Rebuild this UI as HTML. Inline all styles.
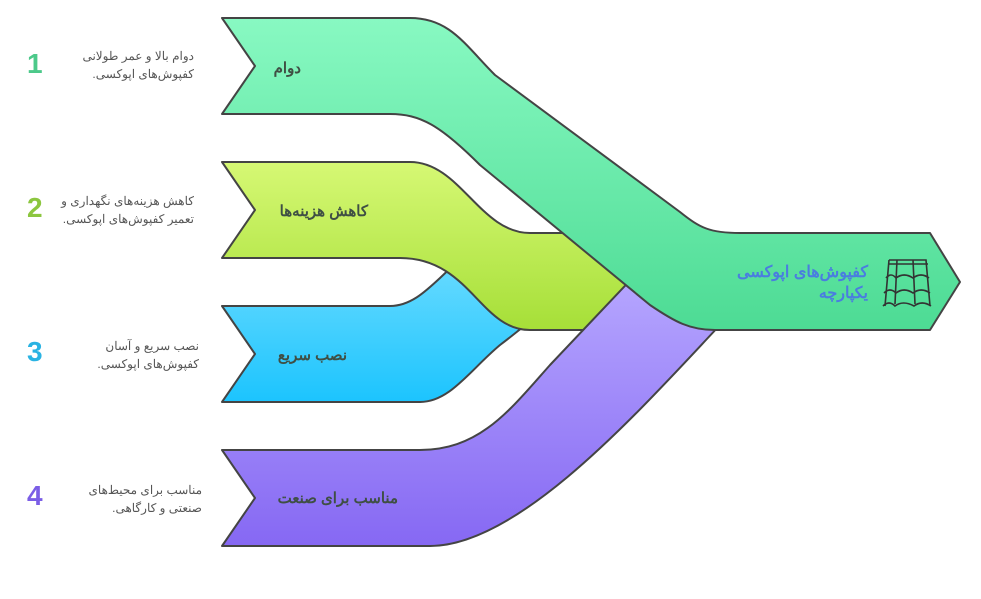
<!DOCTYPE html>
<html><head><meta charset="utf-8"><style>
body{margin:0;width:981px;height:599px;background:#fff;overflow:hidden;position:relative;font-family:"Liberation Sans","Noto Sans CJK SC",sans-serif}
.n{position:absolute;font-size:28px;font-weight:bold;left:27px}
.d{position:absolute;direction:rtl;text-align:right;font-size:12px;color:#555;line-height:18px;width:150px}
</style></head><body>
<svg width="981" height="599" style="position:absolute;left:0;top:0">
<defs>
<linearGradient id="g" x1="0" y1="0" x2="0" y2="1"><stop offset="0" stop-color="#88f9c2"/><stop offset="1" stop-color="#4ddb94"/></linearGradient>
<linearGradient id="l" x1="0" y1="0" x2="0" y2="1"><stop offset="0" stop-color="#d6f874"/><stop offset="1" stop-color="#a6df38"/></linearGradient>
<linearGradient id="b" x1="0" y1="0" x2="0" y2="1"><stop offset="0" stop-color="#74deff"/><stop offset="1" stop-color="#1cc4fe"/></linearGradient>
<linearGradient id="p" x1="0" y1="0" x2="0" y2="1"><stop offset="0" stop-color="#b7a8ff"/><stop offset="1" stop-color="#8668f3"/></linearGradient>
</defs>
<g stroke="#444" stroke-width="2" stroke-linejoin="round">
<path fill="url(#b)" d="M222,306 L390,306 C410,306 425,292 440,278 L480,240 L560,240 L560,300 C530,320 520,330 500,345 C470,370 450,402 420,402 L222,402 L255,354 Z"/>
<path fill="url(#l)" d="M222,162 L410,162 C460,162 480,233 530,233 L640,233 L640,330 L530,330 C480,330 470,258 400,258 L222,258 L255,210 Z"/>
<path fill="url(#p)" d="M222,450 L420,450 C480,450 510,410 550,365 L640,270 L760,275 L720,325 C640,410 520,546 430,546 L222,546 L255,498 Z"/>
<path fill="url(#g)" d="M222,18 L410,18 C450,18 465,45 495,75 L680,212 C700,228 710,233 740,233 L930,233 L960,282 L930,330 L715,330 C690,330 675,322 650,305 L480,165 C440,125 420,114 390,114 L222,114 L255,66 Z"/>
</g>
<g fill="none" stroke="#333" stroke-width="1.6">
<path d="M889,260 H926 L930,306 M885,306 L889,260 M897,260 L895,304 M913,260 L915,304"/>
<path d="M886,278 q5,-6 10,0 q8,-6 17,0 q8,-6 16,0 M884,293 q6,-6 12,0 q8,-6 17,0 q8,-6 17,0 M883,306 q6,-6 12,0 q8,-6 19,0 q8,-6 17,0 M888,264 h40"/>
</g>
<g font-family="Liberation Sans,Noto Sans CJK SC,sans-serif" font-weight="bold" font-size="15" fill="#3f4f44" direction="rtl">
<text x="301" y="73" text-anchor="start">دوام</text>
<text x="368" y="216" text-anchor="start">کاهش هزینه‌ها</text>
<text x="347" y="360" text-anchor="start">نصب سریع</text>
<text x="398" y="503" text-anchor="start">مناسب برای صنعت</text>
<text x="868" y="277" text-anchor="start" fill="#4a7de0" font-size="16">کفپوش‌های اپوکسی</text>
<text x="868" y="298" text-anchor="start" fill="#4a7de0" font-size="16">یکپارچه</text>
</g>
</svg>
<div class="n" style="top:48px;color:#4cc98a">1</div>
<div class="n" style="top:192px;color:#8cc63f">2</div>
<div class="n" style="top:336px;color:#2ab3e3">3</div>
<div class="n" style="top:480px;color:#7b5ee6">4</div>
<div class="d" style="left:44px;top:47px">دوام بالا و عمر طولانی کفپوش‌های اپوکسی.</div>
<div class="d" style="left:44px;top:192px">کاهش هزینه‌های نگهداری و تعمیر کفپوش‌های اپوکسی.</div>
<div class="d" style="left:49px;top:337px">نصب سریع و آسان کفپوش‌های اپوکسی.</div>
<div class="d" style="left:52px;top:481px">مناسب برای محیط‌های صنعتی و کارگاهی.</div>
</body></html>
